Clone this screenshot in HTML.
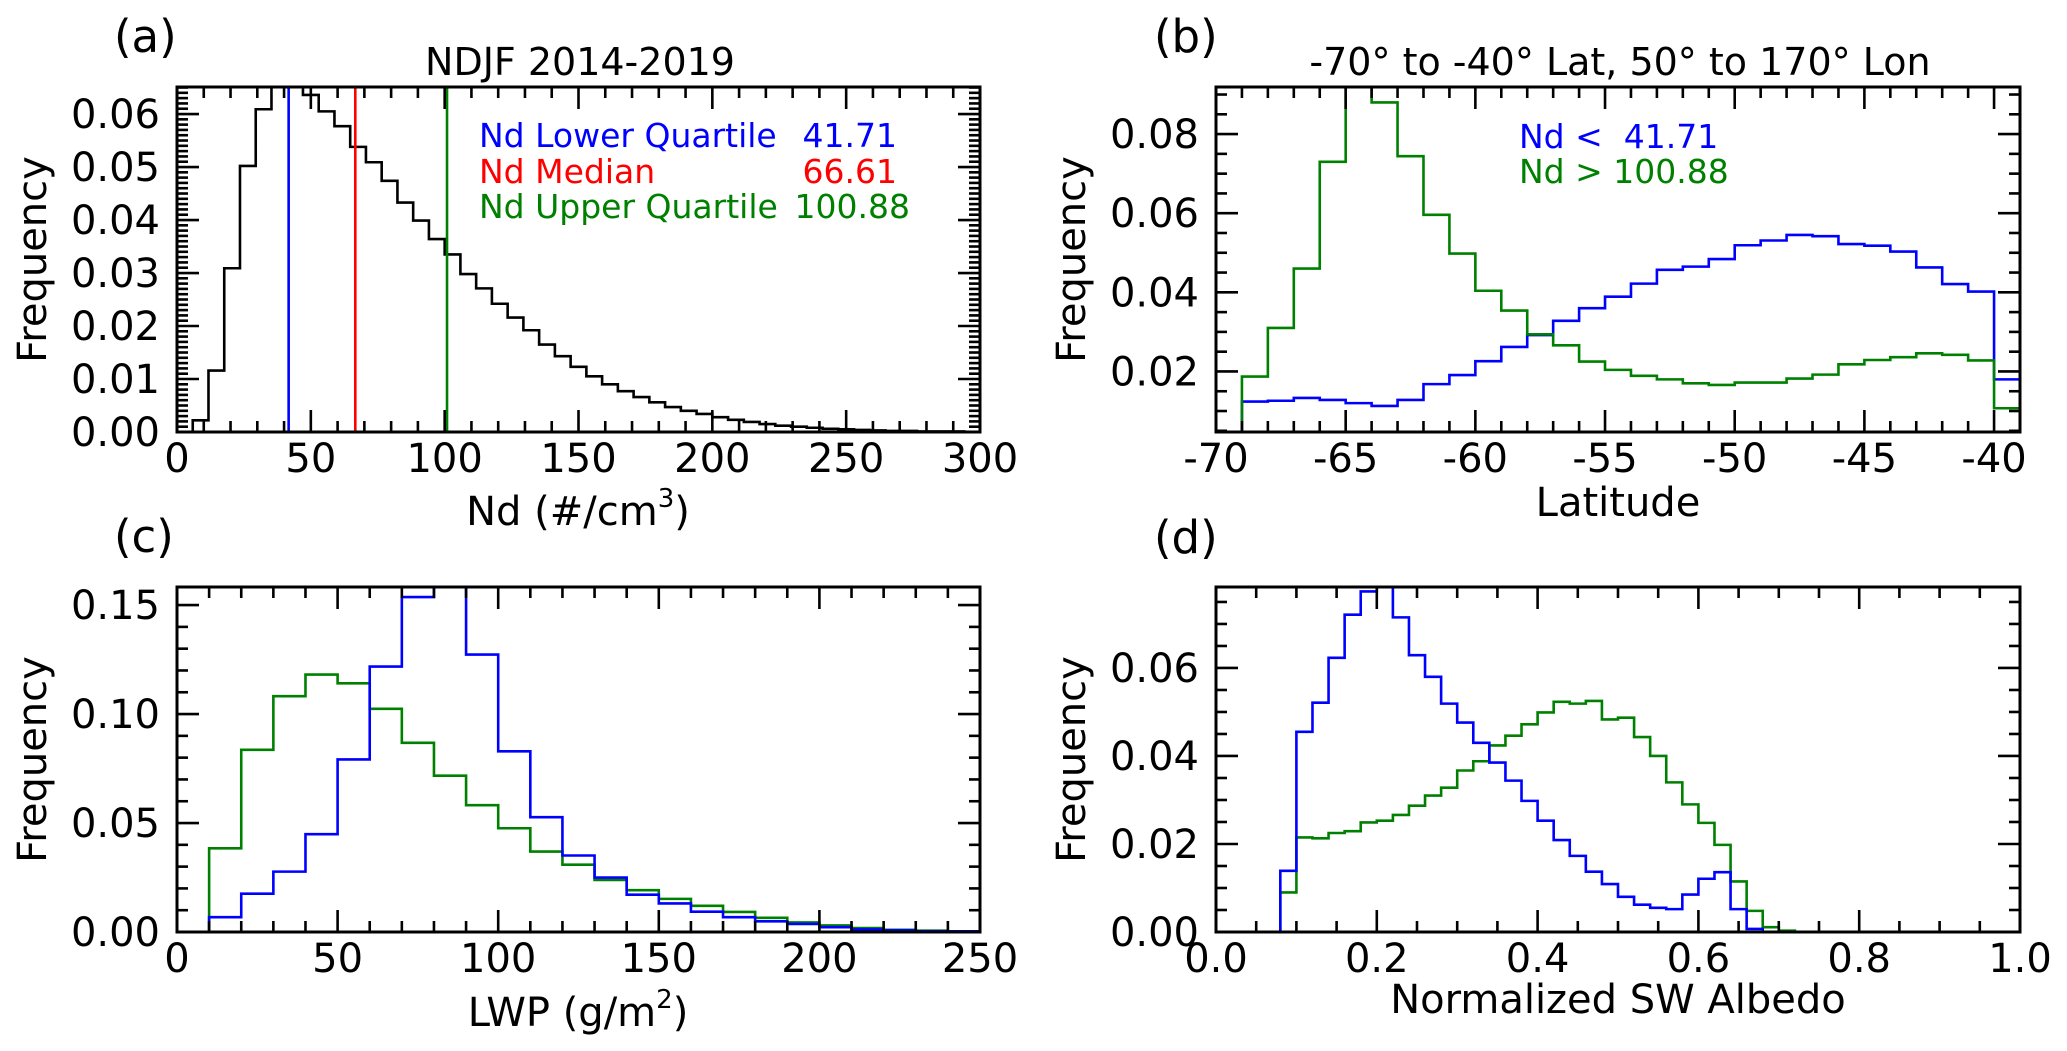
<!DOCTYPE html>
<html><head><meta charset="utf-8"><style>
html,body{margin:0;padding:0;background:#fff;}
svg{display:block;font-family:"DejaVu Sans","Liberation Sans",sans-serif;}
</style></head><body>
<svg id="fig" width="2067" height="1051" viewBox="0 0 2067 1051" xmlns="http://www.w3.org/2000/svg">
<rect width="2067" height="1051" fill="#fff"/>
<text x="114" y="52" font-size="45">(a)</text>
<text x="1154" y="52" font-size="45">(b)</text>
<text x="114" y="552" font-size="45">(c)</text>
<text x="1154" y="553" font-size="45">(d)</text>
<text x="580" y="75" font-size="38" text-anchor="middle">NDJF 2014-2019</text>
<text x="1620" y="75" font-size="38" text-anchor="middle">-70° to -40° Lat, 50° to 170° Lon</text>
<text x="578" y="525" font-size="40" text-anchor="middle">Nd (#/cm<tspan font-size="26" dy="-18">3</tspan><tspan dy="18">)</tspan></text>
<text x="1618" y="516" font-size="40" text-anchor="middle">Latitude</text>
<text x="578" y="1026" font-size="40" text-anchor="middle">LWP (g/m<tspan font-size="26" dy="-18">2</tspan><tspan dy="18">)</tspan></text>
<text x="1618" y="1013" font-size="40" text-anchor="middle">Normalized SW Albedo</text>
<text x="479" y="147" font-size="33" fill="#0000ff">Nd Lower Quartile</text>
<text x="897" y="147" font-size="33" fill="#0000ff" text-anchor="end">41.71</text>
<text x="479" y="183" font-size="33" fill="#ff0000">Nd Median</text>
<text x="897" y="183" font-size="33" fill="#ff0000" text-anchor="end">66.61</text>
<text x="479" y="218" font-size="33" fill="#008000">Nd Upper Quartile</text>
<text x="910" y="218" font-size="33" fill="#008000" text-anchor="end">100.88</text>
<text x="1519" y="148" font-size="33" fill="#0000ff" xml:space="preserve">Nd &lt;  41.71</text>
<text x="1519" y="183" font-size="33" fill="#008000">Nd &gt; 100.88</text>
</svg>
<script>
// ---- data ----
const ndBinWidth = 300/51;
const ndFreq = [0, 0.0022, 0.0116, 0.0309, 0.0502, 0.0609, 0.068, 0.067, 0.0636, 0.0605,
 0.0577, 0.0538, 0.0509, 0.0474, 0.0433, 0.0399, 0.0364, 0.0335, 0.0298, 0.0271,
 0.0242, 0.0216, 0.0192, 0.0165, 0.0143, 0.0123, 0.0105, 0.0090, 0.0077, 0.0066,
 0.0056, 0.0047, 0.0040, 0.0034, 0.0028, 0.0023, 0.0019, 0.0015, 0.0012, 0.0010,
 0.0008, 0.0006, 0.0005, 0.0004, 0.0003, 0.0002, 0.0002, 0.0001, 0.0001, 0.0001, 0.0000];
const ndQuartiles = [41.71, 66.61, 100.88];
const latBinStart = -69;
const latLow = [0.0124,0.0126,0.0133,0.0128,0.0120,0.0113,0.0128,0.0168,0.0191,0.0226,0.0262,0.0292,0.0328,0.0360,0.0389,0.0422,0.0457,0.0465,0.0484,0.0519,0.0531,0.0545,0.0542,0.0522,0.0518,0.0503,0.0463,0.0421,0.0402,0.0180];
const latHigh = [0.0187,0.031,0.046,0.073,0.095,0.088,0.0744,0.0596,0.0498,0.0404,0.0354,0.0294,0.0266,0.0225,0.0204,0.0189,0.0180,0.0170,0.0166,0.0172,0.0172,0.0182,0.0192,0.0218,0.0229,0.0236,0.0246,0.0242,0.0228,0.0107];
const lwpLow = [0, 0.0068, 0.0176, 0.0277, 0.0449, 0.0792, 0.1218, 0.1537, 0.172, 0.1273, 0.0829, 0.0527, 0.0351, 0.0250, 0.0171, 0.0131, 0.0093, 0.0068, 0.0049, 0.0037, 0.0022, 0.0012, 0.0008, 0.0004, 0.0003];
const lwpHigh = [0, 0.0384, 0.0836, 0.1082, 0.1181, 0.1141, 0.1024, 0.0868, 0.0717, 0.0582, 0.0476, 0.0369, 0.0309, 0.0239, 0.0192, 0.0152, 0.0120, 0.0092, 0.0065, 0.0044, 0.0030, 0.0018, 0.0010, 0.0006, 0.0003];
const albLow = [0,0,0,0,0.0139,0.0455,0.0521,0.0623,0.0721,0.0774,0.082,0.0715,0.0629,0.0580,0.0519,0.0476,0.0430,0.0385,0.0344,0.0298,0.0253,0.0209,0.0173,0.0137,0.0109,0.0080,0.0062,0.0055,0.0052,0.0085,0.0121,0.0136,0.0052,0.0007,0,0,0,0,0,0,0,0,0,0,0,0,0,0,0,0];
const albHigh = [0,0,0,0,0.0090,0.0215,0.0213,0.0225,0.0229,0.0249,0.0253,0.0266,0.0287,0.0310,0.0328,0.0367,0.0388,0.0424,0.0446,0.0472,0.0499,0.0523,0.0519,0.0525,0.0483,0.0487,0.0443,0.040,0.034,0.029,0.0248,0.0198,0.0115,0.0048,0.0011,0.0003,0,0,0,0,0,0,0,0,0,0,0,0,0,0];
const yTicksA = ["0.00","0.01","0.02","0.03","0.04","0.05","0.06"];
const xTicksA = ["0","50","100","150","200","250","300"];
const yTicksB = ["0.02","0.04","0.06","0.08"];
const xTicksB = ["-70","-65","-60","-55","-50","-45","-40"];
const yTicksC = ["0.00","0.05","0.10","0.15"];
const xTicksC = ["0","50","100","150","200","250"];
const yTicksD = ["0.00","0.02","0.04","0.06"];
const xTicksD = ["0.0","0.2","0.4","0.6","0.8","1.0"];

const NS = "http://www.w3.org/2000/svg";
const svg = document.getElementById('fig');
function mk(tag, attrs, parent){ const e=document.createElementNS(NS,tag); for(const k in attrs) e.setAttribute(k,attrs[k]); (parent||svg).appendChild(e); return e; }

function panel(p){
  const g = mk('g',{});
  
  
  const sx = v => p.x0 + (v - p.xmin)/(p.xmax - p.xmin)*(p.x1 - p.x0);
  const sy = v => p.y1 - (v - p.ymin)/(p.ymax - p.ymin)*(p.y1 - p.y0);
  const cid = 'clip-' + p.name;
  const cp = mk('clipPath',{id:cid}, g);
  mk('rect',{x:p.x0,y:p.y0,width:p.x1-p.x0,height:p.y1-p.y0}, cp);
  const data = mk('g',{'clip-path':'url(#'+cid+')'}, g);
  p.series.forEach(s=>{
    let d = 'M'+sx(s.start)+','+sy(p.ymin);
    s.values.forEach((v,i)=>{
      const e1 = s.start + (i+1)*s.width;
      d += ' V'+sy(v)+' H'+sx(e1);
    });
    d += ' V'+sy(p.ymin);
    const path = mk('path',{d:d,fill:'none',stroke:s.color,'stroke-width':2.6}, data);
    
    
  });
  (p.vlines||[]).forEach(l=>{
    const ln = mk('line',{x1:sx(l.v),x2:sx(l.v),y1:p.y0,y2:p.y1,stroke:l.color,'stroke-width':2.6}, data);
    
    
  });
  const tg = mk('g',{stroke:'#000','stroke-width':2.6}, g);
  const eps=1e-9;
  for(let v=p.xmin; v<=p.xmax+eps; v+=p.xminor){
    const rel = Math.round((v - p.xfirst)/p.xmajor*1000)/1000;
    const major = Math.abs(rel - Math.round(rel))<1e-3;
    const L = major?22:11, x=sx(v);
    mk('line',{x1:x,x2:x,y1:p.y1,y2:p.y1-L}, tg);
    mk('line',{x1:x,x2:x,y1:p.y0,y2:p.y0+L}, tg);
  }
  const yStart = Math.ceil(p.ymin/p.yminor - 1e-6)*p.yminor;
  for(let v=yStart; v<=p.ymax+eps; v+=p.yminor){
    const rel = (v - p.yfirst)/p.ymajor;
    const major = Math.abs(rel - Math.round(rel))<1e-3;
    const L = major?22:11, y=sy(v);
    mk('line',{x1:p.x0,x2:p.x0+L,y1:y,y2:y}, tg);
    mk('line',{x1:p.x1,x2:p.x1-L,y1:y,y2:y}, tg);
  }
  const fr = mk('rect',{x:p.x0,y:p.y0,width:p.x1-p.x0,height:p.y1-p.y0,fill:'none',stroke:'#000','stroke-width':3}, g);
  
  
  p.xlabels.forEach((t,i)=>{
    const v = p.xfirst + i*p.xmajor;
    const tx = mk('text',{x:sx(v),y:p.y1+40,'font-size':40,'text-anchor':'middle'}, g);
    tx.textContent = t;
    
    
  });
  p.ylabels.forEach((t,i)=>{
    const v = p.yfirst + i*p.ymajor;
    const tx = mk('text',{x:p.x0-17,y:sy(v)+14,'font-size':40,'text-anchor':'end'}, g);
    tx.textContent = t;
    
    
  });
  const cy=(p.y0+p.y1)/2, lx=p.x0-131;
  const yt = mk('text',{x:0,y:0,'font-size':40,'text-anchor':'middle',transform:'translate('+lx+','+cy+') rotate(-90)'}, g);
  yt.textContent = 'Frequency';
  
  
}

panel({name:'panel-a',x0:177,x1:980,y0:87,y1:432,xmin:0,xmax:300,ymin:0,ymax:0.0651,
  xfirst:0,xmajor:50,xminor:10,yfirst:0,ymajor:0.01,yminor:0.001,
  xlabels:xTicksA,ylabels:yTicksA,
  series:[{name:'nd-histogram',start:0,width:ndBinWidth,values:ndFreq,color:'#000'}],
  vlines:[{name:'lower-quartile-line',v:ndQuartiles[0],color:'#0000ff'},{name:'median-line',v:ndQuartiles[1],color:'#ff0000'},{name:'upper-quartile-line',v:ndQuartiles[2],color:'#008000'}]});
panel({name:'panel-b',x0:1216,x1:2020,y0:87,y1:432,xmin:-70,xmax:-39,ymin:0.0047,ymax:0.0919,
  xfirst:-70,xmajor:5,xminor:1,yfirst:0.02,ymajor:0.02,yminor:0.005,
  xlabels:xTicksB,ylabels:yTicksB,
  series:[{name:'latitude-low-nd',start:latBinStart,width:1,values:latLow,color:'#0000ff'},{name:'latitude-high-nd',start:latBinStart,width:1,values:latHigh,color:'#008000'}]});
panel({name:'panel-c',x0:177,x1:980,y0:587,y1:932,xmin:0,xmax:250,ymin:0,ymax:0.1583,
  xfirst:0,xmajor:50,xminor:10,yfirst:0,ymajor:0.05,yminor:0.01,
  xlabels:xTicksC,ylabels:yTicksC,
  series:[{name:'lwp-high-nd',start:0,width:10,values:lwpHigh,color:'#008000'},{name:'lwp-low-nd',start:0,width:10,values:lwpLow,color:'#0000ff'}]});
panel({name:'panel-d',x0:1216,x1:2020,y0:587,y1:932,xmin:0,xmax:1,ymin:0,ymax:0.0784,
  xfirst:0,xmajor:0.2,xminor:0.05,yfirst:0,ymajor:0.02,yminor:0.005,
  xlabels:xTicksD,ylabels:yTicksD,
  series:[{name:'albedo-high-nd',start:0,width:0.02,values:albHigh,color:'#008000'},{name:'albedo-low-nd',start:0,width:0.02,values:albLow,color:'#0000ff'}]});
</script>
</body></html>
